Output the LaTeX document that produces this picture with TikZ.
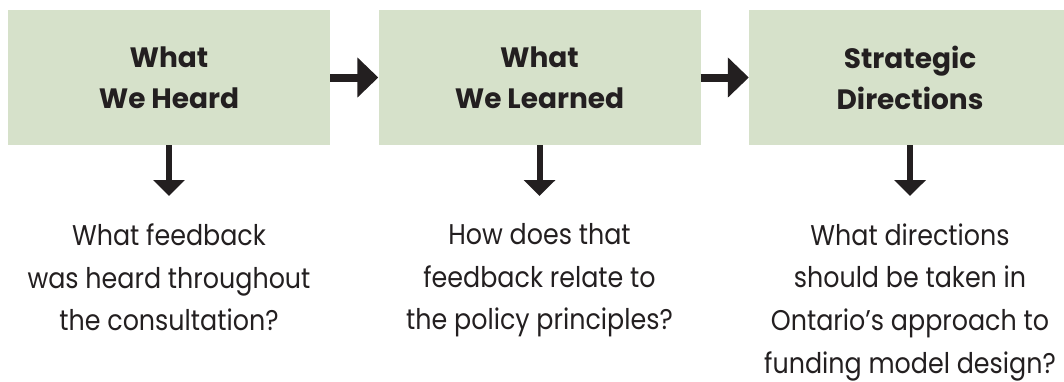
\documentclass[tikz,border=0pt]{standalone}
\usepackage{fontspec}
\setmainfont{Poppins}
\newfontfamily\questionfont{Poppins}[FakeStretch=0.89]
\usetikzlibrary{arrows.meta}
\definecolor{boxgreen}{HTML}{D6E1CA}
\definecolor{ink}{HTML}{231F20}
\tikzset{
  stagebox/.style={fill=boxgreen, draw=none, minimum width=322pt, minimum height=135pt, inner sep=0pt,
    align=center, text=ink, font=\fontsize{28}{41}\selectfont\bfseries},
  question/.style={align=center, text=ink, inner sep=0pt, anchor=north,
    font=\questionfont\fontsize{28.5}{42.6}\selectfont},
  flowarrow/.style={draw=ink, line width=8pt, -{Triangle[length=21pt,width=39pt]}},
  downarrow/.style={draw=ink, line width=6pt, -{Triangle[length=16pt,width=31pt]}}
}
\begin{document}
\begin{tikzpicture}[x=1pt,y=-1pt]
\useasboundingbox (0,0) rectangle (1064,381);
\begin{scope}
\clip (0,0) rectangle (1064,381);
\node[stagebox] (b1) at (169,77.5) {What\\We Heard};
\node[stagebox] (b2) at (539.5,77.5) {What\\We Learned};
\node[stagebox] (b3) at (910,77.5) {Strategic\\Directions};
\end{scope}
\draw[flowarrow] (b1.east) -- (b2.west);
\draw[flowarrow] (b2.east) -- (b3.west);
\coordinate (t1) at (169,196);
\coordinate (t2) at (539.5,196);
\coordinate (t3) at (910,196);
\draw[downarrow] (b1.south) -- (t1);
\draw[downarrow] (b2.south) -- (t2);
\draw[downarrow] (b3.south) -- (t3);
\node[question] (q1) at (169,223.5) {What feedback\\was heard throughout\\the consultation?};
\node[question] (q2) at (539.5,223.5) {How does that\\feedback relate to\\the policy principles?};
\node[question] (q3) at (910,223.5) {What directions\\should be taken in\\Ontario’s approach to\\funding model design?};
\end{tikzpicture}
\end{document}
